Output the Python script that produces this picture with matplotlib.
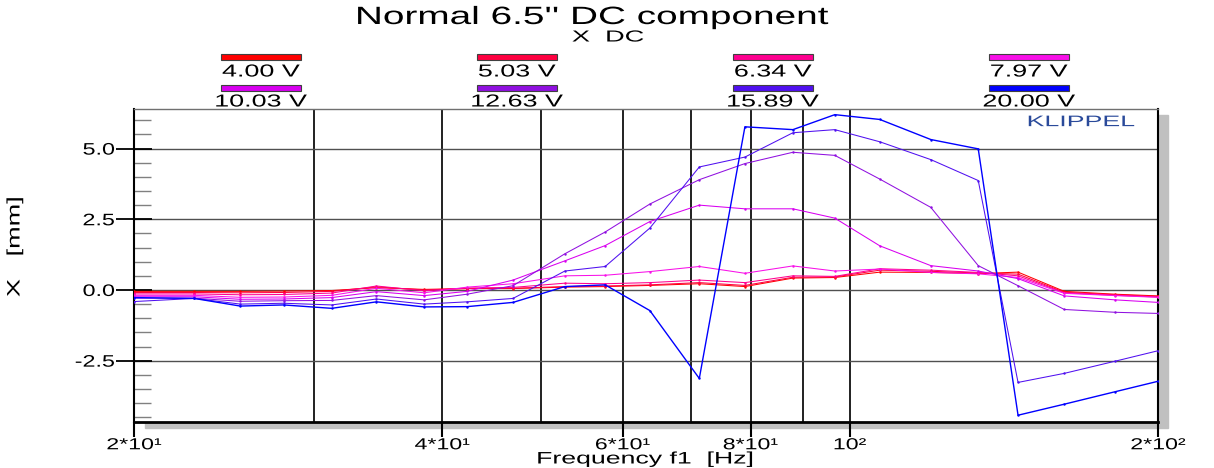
import matplotlib
matplotlib.use('Agg')
import matplotlib.pyplot as plt
from matplotlib.patches import Rectangle
from matplotlib.patheffects import AbstractPathEffect
from matplotlib.transforms import Affine2D
from matplotlib.ticker import MultipleLocator, NullLocator

plt.rcParams['font.family'] = ['Liberation Sans', 'DejaVu Sans']

# frequency points [Hz]
freq = [20.0, 22.9, 25.4, 28.0, 31.2, 34.5, 38.4, 42.3, 46.9, 52.7, 57.7, 63.8,
        71.3, 79.0, 88.0, 96.7, 107.0, 120.0, 133.5, 146.0, 162.0, 181.6, 200.0]

# DC displacement [mm] per voltage
x_400 = [-0.05, -0.05, -0.05, -0.04, -0.02, 0.08, 0.02, 0.05, 0.05, 0.10, 0.12, 0.16,
         0.22, 0.12, 0.42, 0.44, 0.63, 0.62, 0.58, 0.63, -0.05, -0.15, -0.21]
x_503 = [-0.09, -0.09, -0.10, -0.09, -0.05, 0.11, 0.00, 0.05, 0.06, 0.12, 0.14, 0.18,
         0.26, 0.16, 0.45, 0.46, 0.70, 0.66, 0.60, 0.56, -0.08, -0.17, -0.23]
x_634 = [-0.14, -0.14, -0.17, -0.16, -0.11, 0.14, -0.03, 0.07, 0.09, 0.24, 0.22, 0.26,
         0.35, 0.26, 0.50, 0.48, 0.75, 0.70, 0.62, 0.50, -0.10, -0.19, -0.25]
x_797 = [-0.19, -0.19, -0.26, -0.25, -0.19, 0.06, -0.10, 0.10, 0.22, 0.50, 0.52, 0.65,
         0.83, 0.59, 0.85, 0.67, 0.74, 0.62, 0.57, 0.44, -0.12, -0.20, -0.26]
x_1003 = [-0.24, -0.24, -0.33, -0.32, -0.27, -0.06, -0.20, -0.05, 0.35, 1.03, 1.57, 2.42,
          3.00, 2.87, 2.87, 2.54, 1.56, 0.86, 0.67, 0.40, -0.21, -0.35, -0.44]
x_1263 = [-0.29, -0.29, -0.40, -0.38, -0.37, -0.20, -0.35, -0.15, 0.15, 1.28, 2.05, 3.04,
          3.90, 4.47, 4.87, 4.76, 3.92, 2.92, 0.86, 0.15, -0.69, -0.79, -0.83]
x_1589 = [-0.41, -0.30, -0.50, -0.47, -0.53, -0.32, -0.50, -0.42, -0.30, 0.67, 0.83, 2.19,
          4.35, 4.70, 5.56, 5.67, 5.24, 4.61, 3.87, -3.27, -2.95, -2.52, -2.15]
x_2000 = [-0.27, -0.30, -0.57, -0.53, -0.65, -0.42, -0.60, -0.59, -0.44, 0.12, 0.18, -0.73,
          -3.13, 5.77, 5.67, 6.20, 6.03, 5.32, 4.99, -4.43, -4.04, -3.60, -3.23]

series = [x_400, x_503, x_634, x_797, x_1003, x_1263, x_1589, x_2000]
labels = ['4.00 V', '5.03 V', '6.34 V', '7.97 V', '10.03 V', '12.63 V', '15.89 V', '20.00 V']
colors = ['#ff0000', '#ff0040', '#ff0090', '#f810e8', '#d800f0', '#9010e0', '#5010f0', '#0000ff']


class Stretch(AbstractPathEffect):
    """widen text like the old wide screen font of the original"""
    def __init__(self, sx=1.0, sy=1.0, anchor='center'):
        super().__init__()
        self.sx, self.sy, self.anchor = sx, sy, anchor

    def draw_path(self, renderer, gc, tpath, affine, rgbFace=None):
        bb = tpath.get_extents(affine)
        cx = bb.x1 if self.anchor == 'right' else (bb.x0 + bb.x1) / 2
        cy = (bb.y0 + bb.y1) / 2
        t = affine + Affine2D().translate(-cx, -cy).scale(self.sx, self.sy).translate(cx, cy)
        renderer.draw_path(gc, tpath, t, rgbFace)


SX = 1.55
wide = [Stretch(SX)]

W, H = 1214, 468
fig = plt.figure(figsize=(W / 100, H / 100), dpi=100)

# plot area in pixels: x 134..1158, y 109..422
ax = fig.add_axes([134 / W, 1 - 422 / H, 1024 / W, 313 / H])

# drop shadow behind the plot area
fig.add_artist(Rectangle((145 / W, 1 - 428 / H), 1023 / W, 313 / H,
                         transform=fig.transFigure, color='#c0c0c0', zorder=-1))

ax.set_xscale('log')
ax.set_xlim(20, 200)
ax.set_ylim(-4.67, 6.4)

for f in [30, 40, 50, 60, 70, 80, 90, 100]:
    ax.axvline(f, color='#202020', lw=1.4, zorder=1)
for y in [-2.5, 0, 2.5, 5.0]:
    ax.axhline(y, color='#505050', lw=1, zorder=1)

for vals, c in zip(series, colors):
    lw = 1.0 if c == '#0000ff' else 0.75
    ax.plot(freq, vals, color=c, lw=lw, marker='.', ms=1.5, zorder=3)

ax.set_xticks([20, 40, 60, 80, 100, 200])
ax.set_xticklabels(['2*10¹', '4*10¹', '6*10¹', '8*10¹', '10²', '2*10²'])
ax.xaxis.set_minor_locator(NullLocator())
ax.tick_params(axis='x', which='major', direction='out', length=11, width=1.5,
               labelsize=11.5, pad=0)

ax.set_yticks([-2.5, 0, 2.5, 5.0])
ax.set_yticklabels(['-2.5', '0.0', '2.5', '5.0'])
ax.yaxis.set_minor_locator(MultipleLocator(0.5))
ax.tick_params(axis='y', which='major', direction='inout', length=26, width=1.3,
               labelsize=12, pad=1)
ax.tick_params(axis='y', which='minor', direction='in', length=12, width=1,
               color='#808080')

for lab in ax.get_xticklabels():
    lab.set_path_effects([Stretch(1.45)])
for lab in ax.get_yticklabels():
    lab.set_path_effects([Stretch(1.4, anchor='right')])

for s in ['left', 'right']:
    ax.spines[s].set_linewidth(1.5)
ax.spines['bottom'].set_linewidth(2)
ax.spines['top'].set_color('#707070')
ax.spines['top'].set_linewidth(1)

ax.text(0.977, 0.958, 'KLIPPEL', transform=ax.transAxes, ha='right', va='center',
        color='#2a4a9a', fontsize=11, path_effects=[Stretch(1.75, anchor='right')])

fig.text(592 / W, 1 - 17 / H, "Normal 6.5'' DC component", ha='center', va='center',
         fontsize=18, path_effects=wide)
fig.text(608 / W, 1 - 37 / H, 'X  DC', ha='center', va='center', fontsize=11.5,
         path_effects=[Stretch(1.7)])
fig.text(15 / W, 1 - 247 / H, 'X   [mm]', rotation=90, ha='center', va='center',
         fontsize=13, path_effects=[Stretch(1.0, 1.5)])
fig.text(645 / W, 1 - 459 / H, 'Frequency f1  [Hz]', ha='center', va='center',
         fontsize=12, path_effects=[Stretch(1.6)])

# legend: two rows of four, colour bar above the label
col_x = [261, 517, 773, 1029]
row_y = [(57, 72), (88, 102)]
for i, (lab, c) in enumerate(zip(labels, colors)):
    cx = col_x[i % 4]
    py, ty = row_y[i // 4]
    fig.add_artist(Rectangle(((cx - 40) / W, 1 - (py + 3) / H), 80 / W, 6 / H,
                             transform=fig.transFigure, facecolor=c,
                             edgecolor='#404040', lw=0.8))
    fig.text(cx / W, 1 - ty / H, lab, ha='center', va='center', fontsize=12.5,
             path_effects=wide)

fig.savefig('out.png', dpi=100)
